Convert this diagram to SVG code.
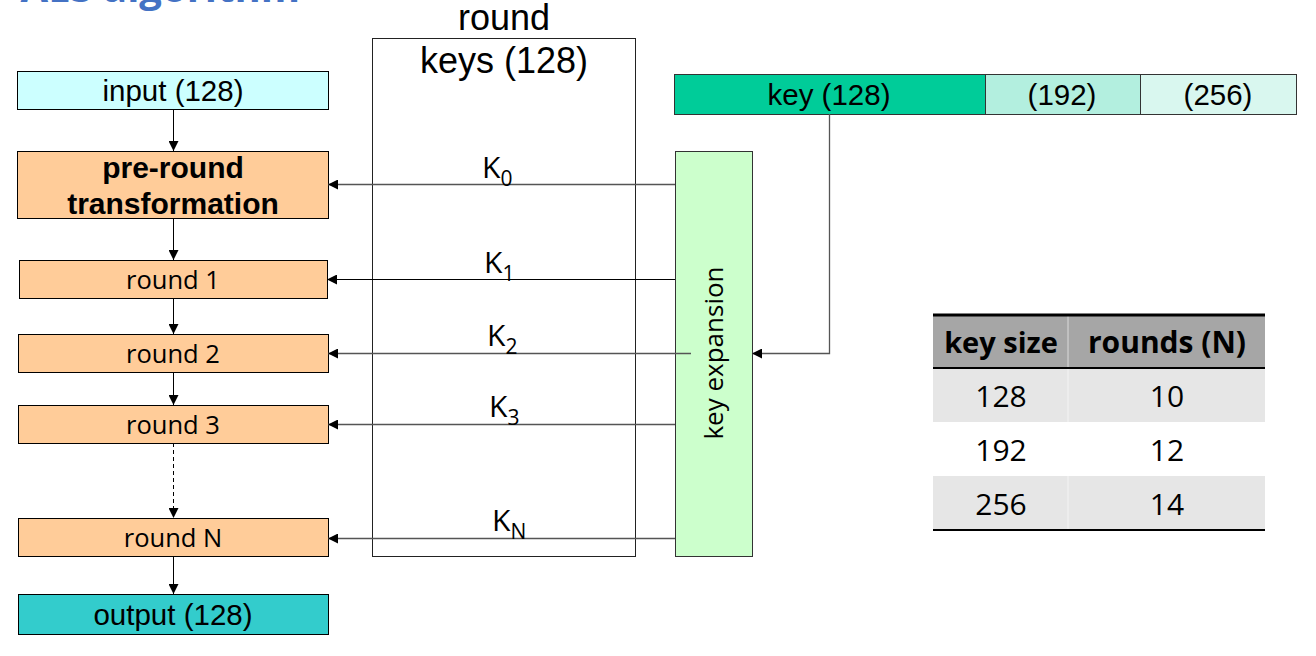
<svg xmlns="http://www.w3.org/2000/svg" width="1316" height="656" viewBox="0 0 1316 656">
<defs>
<marker id="ah" viewBox="0 0 10 10" refX="10" refY="5" markerWidth="10" markerHeight="10" markerUnits="userSpaceOnUse" orient="auto">
<path d="M0,0 L10,5 L0,10 z" fill="#000"/>
</marker>
<style>
.box{stroke:#000;stroke-width:1}
.lib{font-family:"Liberation Sans",Arial,sans-serif;fill:#000}
.os{font-family:"Open Sans","Noto Sans",sans-serif;fill:#000}
.con{stroke:#000;stroke-width:1;fill:none;marker-end:url(#ah)}
.keyc{stroke:#555;stroke-width:1.3;fill:none;marker-end:url(#ah)}
.rnd{fill:#FFCC99}
</style>
</defs>
<rect width="1316" height="656" fill="#fff"/>
<text x="300" y="2" text-anchor="end" font-family="Open Sans, sans-serif" font-weight="bold" font-size="40" fill="#4472C4">AES algorithm</text>

<g id="input"><rect class="box" x="17.5" y="71.5" width="311" height="38" fill="#CCFFFF"/><text class="lib" x="173" y="101" font-size="29.5" text-anchor="middle">input (128)</text></g>
<g id="preround"><rect class="box rnd" x="17.5" y="151.5" width="311" height="67"/><text class="lib" x="173" y="178" font-size="30" font-weight="bold" text-anchor="middle">pre-round</text><text class="lib" x="173" y="214" font-size="30" font-weight="bold" text-anchor="middle">transformation</text></g>
<g id="round1"><rect class="box rnd" x="19.5" y="260.5" width="308" height="38"/><text class="os" x="173" y="289" font-size="25.5" text-anchor="middle">round 1</text></g>
<g id="round2"><rect class="box rnd" x="18.5" y="334.5" width="310" height="38"/><text class="os" x="173" y="363" font-size="25.5" text-anchor="middle">round 2</text></g>
<g id="round3"><rect class="box rnd" x="18.5" y="405.5" width="310" height="38"/><text class="os" x="173" y="434" font-size="25.5" text-anchor="middle">round 3</text></g>
<g id="roundN"><rect class="box rnd" x="18.5" y="518.5" width="310" height="38"/><text class="os" x="173" y="547" font-size="25.5" text-anchor="middle">round N</text></g>
<g id="output"><rect class="box" x="18.5" y="594.5" width="310" height="40" fill="#33CCCC"/><text class="lib" x="173" y="625" font-size="29.5" text-anchor="middle">output (128)</text></g>

<g id="roundkeys"><rect x="372.5" y="38.5" width="263" height="518" fill="none" stroke="#222" stroke-width="1"/><text class="lib" x="504" y="30" font-size="36" text-anchor="middle">round</text><text class="lib" x="504" y="73" font-size="36" text-anchor="middle">keys (128)</text></g>

<g id="keyexpansion"><rect x="675.5" y="151.5" width="77" height="405" fill="#CCFFCC" stroke="#333" stroke-width="1"/><text class="os" transform="translate(723,353) rotate(-90)" font-size="26" text-anchor="middle">key expansion</text></g>

<g id="keybar">
<rect x="674.5" y="74.5" width="311" height="40" fill="#00CC99" stroke="#333"/>
<rect x="985.5" y="74.5" width="155" height="40" fill="#B3EFDF" stroke="#333"/>
<rect x="1140.5" y="74.5" width="156" height="40" fill="#D9F7EF" stroke="#333"/>
<text class="lib" x="829" y="105" font-size="29.5" text-anchor="middle">key (128)</text>
<text class="lib" x="1062" y="105" font-size="29.5" text-anchor="middle">(192)</text>
<text class="lib" x="1218" y="105" font-size="29.5" text-anchor="middle">(256)</text>
</g>

<g id="connectors">
<line class="con" x1="173.5" y1="109" x2="173.5" y2="151"/>
<line class="con" x1="173.5" y1="218" x2="173.5" y2="260"/>
<line class="con" x1="173.5" y1="298" x2="173.5" y2="334"/>
<line class="con" x1="173.5" y1="372" x2="173.5" y2="405"/>
<line class="con" x1="173.5" y1="443" x2="173.5" y2="518" stroke-dasharray="4,3"/>
<line class="con" x1="173.5" y1="556" x2="173.5" y2="594"/>
<line class="keyc" x1="675" y1="184.5" x2="328" y2="184.5"/>
<line class="con" x1="675" y1="279.5" x2="327" y2="279.5"/>
<line class="keyc" x1="691" y1="353.5" x2="328" y2="353.5"/>
<line class="keyc" x1="675" y1="424.5" x2="328" y2="424.5"/>
<line class="keyc" x1="675" y1="538.5" x2="328" y2="538.5"/>
<polyline class="keyc" points="829.5,114 829.5,353.5 752,353.5"/>
</g>

<g id="klabels" class="os" font-size="30">
<text x="482" y="178">K<tspan font-size="21" dy="8">0</tspan></text>
<text x="484" y="273">K<tspan font-size="21" dy="8">1</tspan></text>
<text x="487" y="346">K<tspan font-size="21" dy="8">2</tspan></text>
<text x="489" y="417">K<tspan font-size="21" dy="8">3</tspan></text>
<text x="492" y="531">K<tspan font-size="21" dy="8">N</tspan></text>
</g>

<g id="table">
<rect x="933" y="314" width="332" height="54" fill="#A6A6A6"/>
<rect x="933" y="368" width="332" height="54" fill="#E6E6E6"/>
<rect x="933" y="476" width="332" height="54" fill="#E6E6E6"/>
<line x1="1068" y1="314" x2="1068" y2="530" stroke="#fff" stroke-width="1" opacity="0.6"/>
<line x1="933" y1="315" x2="1265" y2="315" stroke="#000" stroke-width="3"/>
<line x1="933" y1="368" x2="1265" y2="368" stroke="#000" stroke-width="2"/>
<line x1="933" y1="530" x2="1265" y2="530" stroke="#000" stroke-width="2"/>
<g class="os" font-size="30" text-anchor="middle">
<text x="1001" y="353" font-weight="bold" font-size="29">key size</text>
<text x="1167" y="353" font-weight="bold" font-size="30">rounds (N)</text>
<text x="1001" y="407">128</text><text x="1167" y="407">10</text>
<text x="1001" y="461">192</text><text x="1167" y="461">12</text>
<text x="1001" y="515">256</text><text x="1167" y="515">14</text>
</g>
</g>
</svg>
